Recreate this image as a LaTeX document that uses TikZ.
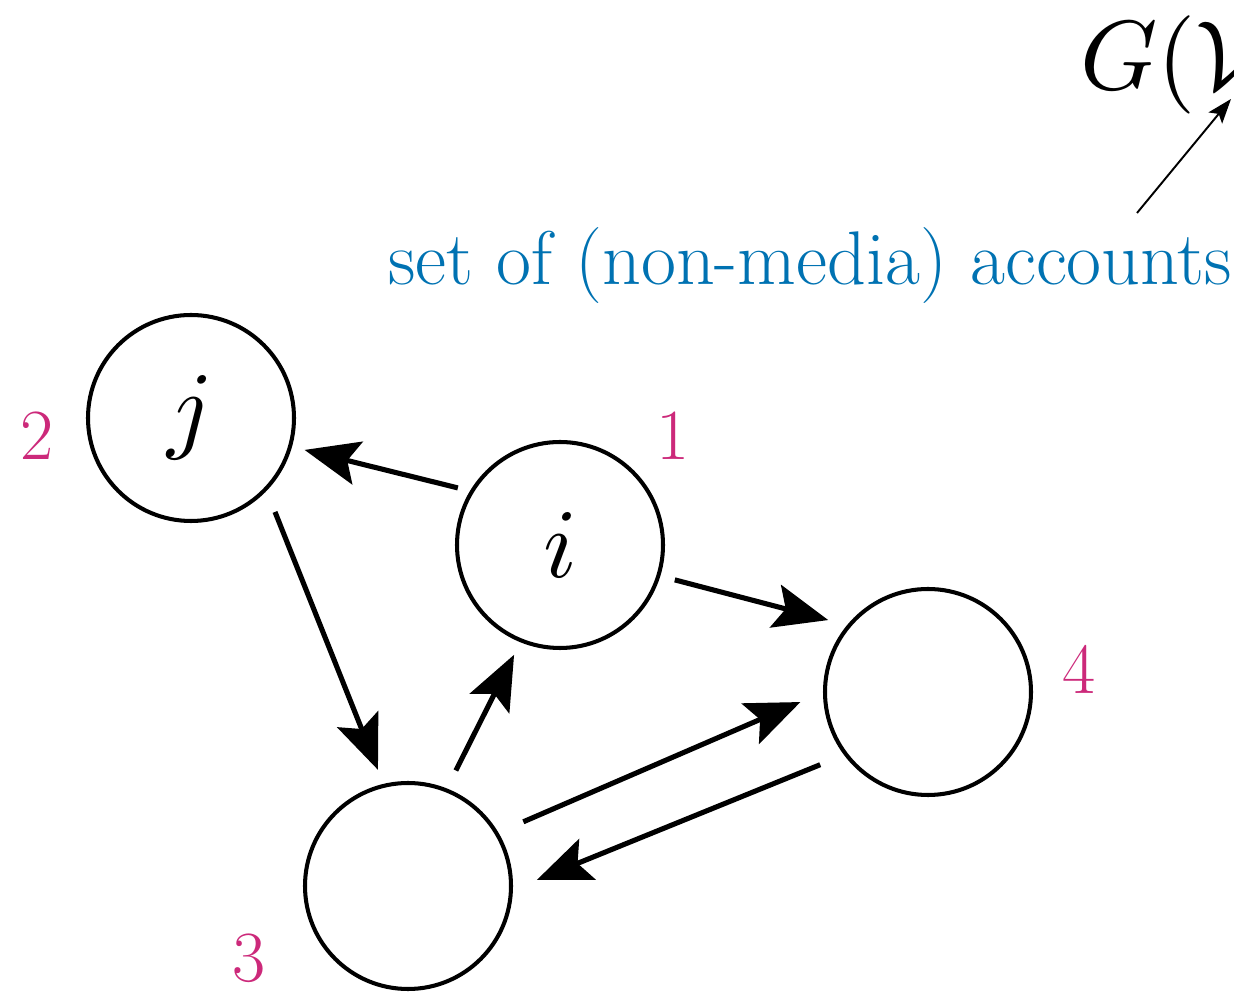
\documentclass[tikz,border=0pt]{standalone}
\usepackage{graphicx}
\usetikzlibrary{arrows.meta,calc}
\definecolor{labmag}{RGB}{204,41,122}
\definecolor{labblue}{RGB}{0,114,178}
\newcommand{\mybigmath}[1]{\scalebox{5.6}{$#1$}}
\begin{document}
\begin{tikzpicture}[x=0.02cm,y=0.02cm,
  vert/.style={circle,draw=black,line width=2.3pt,minimum size=206*0.02cm,inner sep=0pt},
  edge/.style={line width=2.9pt,-{Stealth[length=31pt,width=25pt,inset=6pt]}},
  num/.style={text=labmag,anchor=base west,inner sep=0pt,font=\fontsize{41}{48}\selectfont},
  txt/.style={anchor=base west,inner sep=0pt}]
\useasboundingbox (0,0) rectangle (1234,994);
\clip (0,0) rectangle (1234,994);
\node[vert] (j) at (191,576) {\mybigmath{j}};
\node[vert] (i) at (560,449) {\mybigmath{i}};
\node[vert] (v4) at (928,302) {};
\node[vert] (v3) at (408,108) {};
\node[num] (l2) at (20,534) {2};
\node[num] (l1) at (656,534) {1};
\node[num] (l4) at (1062,300) {4};
\node[num] (l3) at (232,12) {3};
\draw[edge] ($(i.center)+(150.8:117)$) -- ($(j.center)+(-15.7:118)$);
\draw[edge] ($(j.center)+(-48.2:126)$) -- ($(v3.center)+(104.5:120)$);
\draw[edge] ($(v3.center)+(67.5:125)$) -- ($(i.center)+(247.3:119)$);
\draw[edge] ($(i.center)+(-16.9:120)$) -- ($(v4.center)+(144.2:123)$);
\draw[edge] ($(v3.center)+(29.1:132)$) -- ($(v4.center)+(184.5:128)$);
\draw[edge] ($(v4.center)+(214:130)$) -- ($(v3.center)+(2.7:129)$);
\node[txt,text=labblue,font=\fontsize{43.3}{50}\selectfont] (acc) at (388,709) {set of (non-media) accounts};
\node[txt] (G) at (1080,904) {\mybigmath{G(\mathcal{V}}};
\coordinate (a0) at (1137,781);
\coordinate (a1) at (1231,895);
\draw[line width=1.1pt,-{Stealth[length=14pt,width=10pt,inset=3pt]}] (a0) -- (a1);
\end{tikzpicture}
\end{document}
